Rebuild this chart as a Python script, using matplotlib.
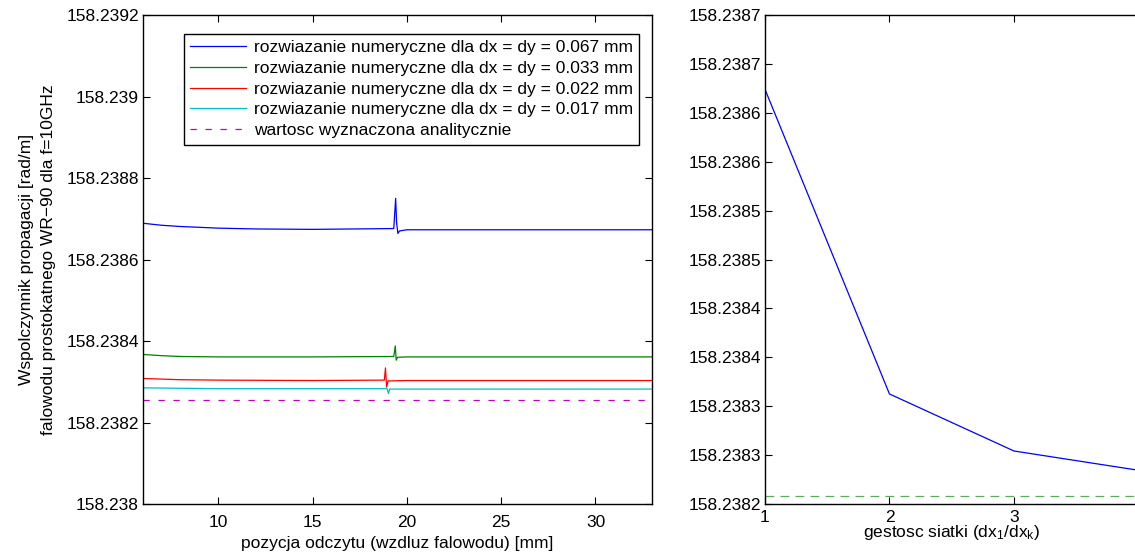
import matplotlib
matplotlib.use("Agg")
import matplotlib.pyplot as plt

plt.rcParams['font.family'] = ['Liberation Sans', 'DejaVu Sans']
plt.rcParams['mathtext.fontset'] = 'custom'
plt.rcParams['mathtext.rm'] = 'Liberation Sans'
plt.rcParams['mathtext.it'] = 'Liberation Sans'
plt.rcParams['font.size'] = 12.5

# propagation constant read along the guide, one run per mesh size
x_067 = [6.0, 7.0, 8.0, 9.0, 10.0, 12.0, 15.0, 19.3, 19.40, 19.45, 19.52, 19.6, 20.0, 25.0, 33.0]
y_067 = [158.238689, 158.238684, 158.238681, 158.238679, 158.238677, 158.238675, 158.238674,
         158.238676, 158.238750, 158.238690, 158.238664, 158.238670, 158.238673, 158.238673, 158.238673]

x_033 = [6.0, 7.0, 8.0, 10.0, 15.0, 19.30, 19.38, 19.43, 19.50, 20.0, 33.0]
y_033 = [158.238367, 158.238364, 158.238362, 158.238361, 158.238361, 158.238362,
         158.238388, 158.238353, 158.238360, 158.238361, 158.238361]

x_022 = [6.0, 8.0, 10.0, 15.0, 18.80, 18.86, 18.92, 19.0, 20.0, 33.0]
y_022 = [158.238308, 158.238305, 158.238304, 158.238303, 158.238304,
         158.238334, 158.238287, 158.238302, 158.238303, 158.238303]

x_017 = [6.0, 10.0, 18.95, 19.02, 19.08, 20.0, 33.0]
y_017 = [158.238285, 158.238283, 158.238283, 158.238271, 158.238282, 158.238282, 158.238282]

beta_analytic_left = 158.238256

left_yticks = [158.2380, 158.2382, 158.2384, 158.2386, 158.2388, 158.2390, 158.2392]
left_ylabels = ['158.238', '158.2382', '158.2384', '158.2386', '158.2388', '158.239', '158.2392']
left_xticks = [10, 15, 20, 25, 30]

# convergence vs mesh density
density = [1, 2, 3, 4]
beta_density = [158.238624, 158.2383125, 158.2382542, 158.2382345]
beta_analytic_right = 158.2382082

right_yticks = [158.23820, 158.23825, 158.23830, 158.23835, 158.23840, 158.23845,
                158.23850, 158.23855, 158.23860, 158.23865, 158.23870]
right_ylabels = ['158.2382', '158.2383', '158.2383', '158.2384', '158.2384', '158.2385',
                 '158.2385', '158.2386', '158.2386', '158.2387', '158.2387']
right_xticks = [1, 2, 3]

labels = ['rozwiazanie numeryczne dla dx = dy = 0.067 mm',
          'rozwiazanie numeryczne dla dx = dy = 0.033 mm',
          'rozwiazanie numeryczne dla dx = dy = 0.022 mm',
          'rozwiazanie numeryczne dla dx = dy = 0.017 mm',
          'wartosc wyznaczona analitycznie']

blue = (0, 0, 1)
green = (0, 0.5, 0)
red = (1, 0, 0)
cyan = (0, 0.75, 0.75)
magenta = (0.75, 0, 0.75)

fig = plt.figure(figsize=(11.35, 5.55), dpi=100)
ax1 = fig.add_axes([0.126, 0.0919, 0.4485, 0.881])
ax2 = fig.add_axes([0.674, 0.0919, 0.329, 0.881])

ax1.plot(x_067, y_067, color=blue, lw=0.9, label=labels[0])
ax1.plot(x_033, y_033, color=green, lw=0.9, label=labels[1])
ax1.plot(x_022, y_022, color=red, lw=0.9, label=labels[2])
ax1.plot(x_017, y_017, color=cyan, lw=0.9, label=labels[3])
ax1.axhline(beta_analytic_left, color=magenta, lw=0.9, ls=(0, (5, 7)), label=labels[4])

ax1.set_xlim(6, 33)
ax1.set_ylim(158.2380, 158.2392)
ax1.set_xticks(left_xticks)
ax1.set_yticks(left_yticks)
ax1.set_yticklabels(left_ylabels)
ax1.set_xlabel('pozycja odczytu (wzdluz falowodu) [mm]', labelpad=4)
ax1.set_ylabel('Wspolczynnik propagacji [rad/m]\nfalowodu prostokatnego WR\u221290 dla f=10GHz',
               labelpad=7, linespacing=1.6)

leg = ax1.legend(loc='upper right', bbox_to_anchor=(0.975, 0.962), fontsize=12.5,
                 frameon=True, fancybox=False, framealpha=1, edgecolor='black',
                 handlelength=3.2, handletextpad=0.45, labelspacing=0.32,
                 borderpad=0.38, borderaxespad=0)
leg.get_frame().set_linewidth(1.0)

ax2.plot(density, beta_density, color=blue, lw=0.9)
ax2.axhline(beta_analytic_right, color=green, lw=0.9, ls=(0, (7, 5)), alpha=0.65)
ax2.set_xlim(1, 4)
ax2.set_ylim(158.23820, 158.23870)
ax2.set_xticks(right_xticks)
ax2.set_xticklabels([str(v) for v in right_xticks])
ax2.set_yticks(right_yticks)
ax2.set_yticklabels(right_ylabels)
ax2.set_xlabel(r'gestosc siatki (dx$_1$/dx$_k$)', labelpad=-1)

for ax in (ax1, ax2):
    ax.tick_params(direction='in', top=True, right=True, length=5, width=0.8,
                   labelsize=12.5, pad=3, colors='black')
    for s in ax.spines.values():
        s.set_linewidth(1.0)
    ax.yaxis.get_offset_text().set_visible(False)
ax1.tick_params(axis='x', pad=8)
ax2.tick_params(axis='x', pad=4)
ax2.tick_params(right=False)

fig.savefig('out.png', dpi=100)
